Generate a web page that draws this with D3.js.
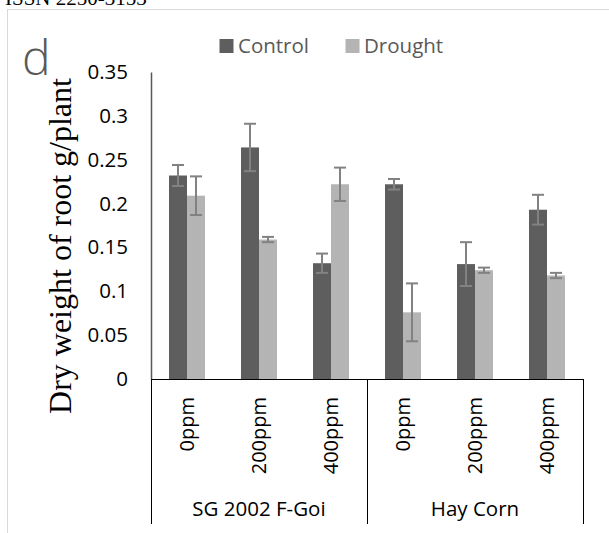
<!DOCTYPE html>
<html>
<head>
<meta charset="utf-8">
<script src="https://cdn.jsdelivr.net/npm/d3@7"></script>
<style>
  body { margin: 0; background: #fff; }
  svg { display: block; }
</style>
</head>
<body>
<div id="chart"></div>
<script>
// data
var groups = ["SG 2002 F-Goi", "Hay Corn"];
var doses = ["0ppm", "200ppm", "400ppm"];
var series = ["Control", "Drought"];
var control = [0.232, 0.264, 0.132, 0.222, 0.131, 0.193];
var drought = [0.209, 0.159, 0.222, 0.076, 0.124, 0.118];
var controlErr = [0.012, 0.027, 0.011, 0.006, 0.025, 0.017];
var droughtErr = [0.022, 0.003, 0.019, 0.033, 0.003, 0.003];
var yTicks = [0, 0.05, 0.1, 0.15, 0.2, 0.25, 0.3, 0.35];

var width = 609, height = 533;
var margin = {top: 72, left: 151, right: 26, bottom: 154};
var plotW = width - margin.left - margin.right,
    plotH = height - margin.top - margin.bottom;

var colors = {"Control": "#5e5e5e", "Drought": "#b4b4b4"};
var font = "'Open Sans', sans-serif";

var svg = d3.select("#chart").append("svg")
    .attr("width", width)
    .attr("height", height);

// page bits around the chart
svg.append("text")
    .attr("x", 5)
    .attr("y", 5)
    .attr("font-family", "'Liberation Serif', serif")
    .attr("font-size", 21)
    .text("ISSN 2250-3153");

svg.append("rect")
    .attr("x", 7.5).attr("y", 9.5)
    .attr("width", 700).attr("height", 600)
    .attr("fill", "none")
    .attr("stroke", "#d9d9d9");

svg.append("text")
    .attr("x", 22)
    .attr("y", 75)
    .attr("font-family", font)
    .attr("font-weight", 300)
    .attr("font-size", 48)
    .attr("fill", "#595959")
    .text("d");

// categories = group x dose
var cats = [];
groups.forEach(function(g) {
    doses.forEach(function(d) { cats.push({group: g, dose: d}); });
});
var rows = cats.map(function(c, i) {
    return {
        i: i, dose: c.dose, group: c.group,
        values: [
            {key: "Control", value: control[i], err: controlErr[i]},
            {key: "Drought", value: drought[i], err: droughtErr[i]}
        ]
    };
});

var x0 = d3.scaleBand().domain(d3.range(cats.length)).range([0, plotW]);
var x1 = d3.scaleBand().domain(series).range([0, x0.bandwidth()]).paddingOuter(1);
var y = d3.scaleLinear().domain([0, 0.35]).range([plotH, 0]);

var g = svg.append("g")
    .attr("transform", "translate(" + margin.left + "," + margin.top + ")");

// bars
var cat = g.selectAll(".cat").data(rows).enter().append("g")
    .attr("class", "cat")
    .attr("transform", function(d) { return "translate(" + x0(d.i) + ",0)"; });

cat.selectAll("rect").data(function(d) { return d.values; }).enter().append("rect")
    .attr("x", function(d) { return x1(d.key); })
    .attr("y", function(d) { return y(d.value); })
    .attr("width", x1.bandwidth())
    .attr("height", function(d) { return plotH - y(d.value); })
    .attr("fill", function(d) { return colors[d.key]; });

// error bars
var eb = cat.selectAll(".err").data(function(d) { return d.values; }).enter().append("g")
    .attr("class", "err")
    .attr("stroke", "#828282")
    .attr("stroke-width", 2);
var cx = function(d) { return x1(d.key) + x1.bandwidth() / 2; };
eb.append("line")
    .attr("x1", cx).attr("x2", cx)
    .attr("y1", function(d) { return y(d.value + d.err); })
    .attr("y2", function(d) { return y(d.value - d.err); });
eb.append("line")
    .attr("x1", function(d) { return cx(d) - 6; }).attr("x2", function(d) { return cx(d) + 6; })
    .attr("y1", function(d) { return y(d.value + d.err); })
    .attr("y2", function(d) { return y(d.value + d.err); });
eb.append("line")
    .attr("x1", function(d) { return cx(d) - 6; }).attr("x2", function(d) { return cx(d) + 6; })
    .attr("y1", function(d) { return y(d.value - d.err); })
    .attr("y2", function(d) { return y(d.value - d.err); });

// y axis
var yAxis = g.append("g")
    .call(d3.axisLeft(y).tickValues(yTicks).tickSize(0).tickPadding(23)
        .tickFormat(d3.format("~g")));
yAxis.select(".domain").attr("stroke", "#595959").attr("stroke-width", 1.5);
yAxis.selectAll("text")
    .attr("font-family", font)
    .attr("font-size", 20.5)
    .attr("fill", "#000");

svg.append("text")
    .attr("transform", "translate(71," + (margin.top + 174) + ")rotate(-90)")
    .attr("text-anchor", "middle")
    .attr("font-family", "'Liberation Serif', serif")
    .attr("font-size", 32)
    .attr("fill", "#000")
    .text("Dry weight of root g/plant");

// category axis (two levels)
var axisBottom = plotH + 145;
g.append("line")
    .attr("x1", 0).attr("x2", plotW)
    .attr("y1", plotH + 0.5).attr("y2", plotH + 0.5)
    .attr("stroke", "#000");
g.selectAll(".sep").data(d3.range(groups.length + 1)).enter().append("line")
    .attr("class", "sep")
    .attr("x1", function(d) { return Math.round(d * plotW / groups.length) + 0.5; })
    .attr("x2", function(d) { return Math.round(d * plotW / groups.length) + 0.5; })
    .attr("y1", plotH).attr("y2", axisBottom)
    .attr("stroke", "#000");

g.selectAll(".dose").data(rows).enter().append("text")
    .attr("class", "dose")
    .attr("transform", function(d) {
        return "translate(" + (x0(d.i) + x0.bandwidth() / 2 + 7) + "," + (plotH + 18) + ")rotate(-90)";
    })
    .attr("text-anchor", "end")
    .attr("font-family", font)
    .attr("font-size", 20)
    .attr("fill", "#000")
    .text(function(d) { return d.dose; });

g.selectAll(".grp").data(groups).enter().append("text")
    .attr("class", "grp")
    .attr("x", function(d, i) { return (i + 0.5) * plotW / groups.length; })
    .attr("y", plotH + 137)
    .attr("text-anchor", "middle")
    .attr("font-family", font)
    .attr("font-size", 20.5)
    .attr("fill", "#000")
    .text(function(d) { return d; });

// legend
var legendX = [219.5, 345.5];
var legend = svg.selectAll(".legend").data(series).enter().append("g")
    .attr("class", "legend")
    .attr("transform", function(d, i) { return "translate(" + legendX[i] + ",39)"; });
legend.append("rect")
    .attr("width", 14).attr("height", 14)
    .attr("fill", function(d) { return colors[d]; });
legend.append("text")
    .attr("x", 18.5)
    .attr("y", 13.5)
    .attr("font-family", font)
    .attr("font-size", 20.5)
    .attr("fill", "#595959")
    .text(function(d) { return d; });
</script>
</body>
</html>
